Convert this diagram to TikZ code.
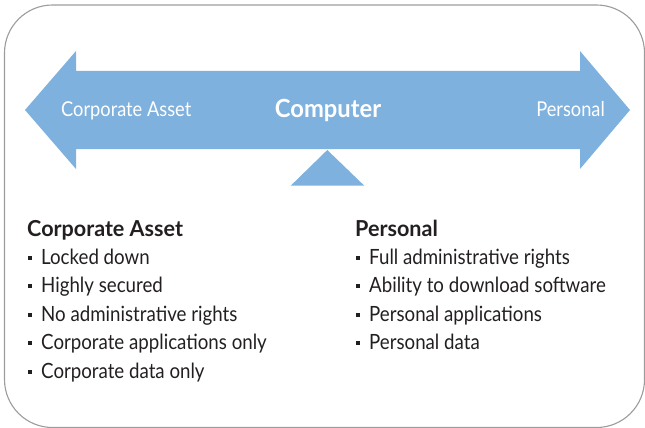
\documentclass[tikz,border=0pt]{standalone}
\usepackage{fontspec}
\setmainfont{Lato}
\newfontfamily\bodyfont{Lato}[FakeStretch=0.89]
\newfontfamily\headfont{Lato}[FakeStretch=0.98]
\newfontfamily\compfont{Lato}[FakeStretch=0.95]
\definecolor{arrowblue}{HTML}{7EB1DE}
\definecolor{textdark}{HTML}{231F20}
\definecolor{framegray}{HTML}{9C9C9C}
\newcommand{\bul}{\makebox[13pt][l]{\rule[4.5pt]{4pt}{4pt}}}
\begin{document}
\begin{tikzpicture}[x=1pt,y=-1pt,
  label/.style={inner sep=0pt, anchor=base, text=white, font=\bodyfont\fontsize{20.5}{24}\selectfont},
  head/.style={inner sep=0pt, anchor=base west, text=textdark, font=\headfont\fontsize{22}{26}\selectfont\bfseries},
  item/.style={inner sep=0pt, anchor=base west, text=textdark, font=\bodyfont\fontsize{21}{25}\selectfont}]
\useasboundingbox (0,0) rectangle (645,428);
\draw[framegray, line width=1.1pt, rounded corners=48pt] (4.5,5) rectangle (644.5,427.5);
\fill[arrowblue] (25,110) -- (76,51) -- (76,71) -- (580,71) -- (580,51) -- (630,110)
  -- (580,169) -- (580,149) -- (76,149) -- (76,169) -- cycle;
\fill[arrowblue] (327.3,150) -- (364.3,185.7) -- (290.7,185.7) -- cycle;
\node[label, anchor=base west] (lcorp) at (61,116) {Corporate Asset};
\node[label, font=\compfont\fontsize{25}{28}\selectfont\bfseries] (comp) at (328,117.5) {Computer};
\node[label, anchor=base east] (lpers) at (605,116) {Personal};
\node[head] (hcorp) at (27,236) {Corporate Asset};
\node[item] (c1) at (28,264) {\bul Locked down};
\node[item] (c2) at (28,292.5) {\bul Highly secured};
\node[item] (c3) at (28,321) {\bul No administrative rights};
\node[item] (c4) at (28,349.5) {\bul Corporate applications only};
\node[item] (c5) at (28,378) {\bul Corporate data only};
\node[head] (hpers) at (355,236) {Personal};
\node[item] (p1) at (356,264) {\bul Full administrative rights};
\node[item] (p2) at (356,292.5) {\bul Ability to download software};
\node[item] (p3) at (356,321) {\bul Personal applications};
\node[item] (p4) at (356,349.5) {\bul Personal data};
\end{tikzpicture}
\end{document}
